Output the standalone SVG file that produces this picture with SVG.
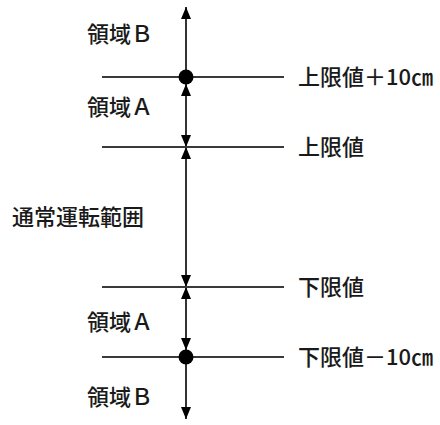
<svg xmlns="http://www.w3.org/2000/svg" width="440" height="425" viewBox="0 0 440 425">
<style>
.bg{fill:#ffffff}
.lvl{stroke:#3a3a3a;stroke-width:2;fill:none}
.ax{stroke:#000000;stroke-width:1.6;fill:none}
.t{font-family:"Noto Sans CJK JP","Noto Sans CJK SC",sans-serif;font-size:22px;font-weight:500;fill:#1a1a1a}
.dot{fill:#000000}
</style>
<defs>
<marker id="ah" viewBox="0 0 12 10" refX="12" refY="5" markerWidth="12" markerHeight="10" markerUnits="userSpaceOnUse" orient="auto-start-reverse">
<path d="M0,0 L12,5 L0,10 z" fill="#000000"/>
</marker>
</defs>
<rect class="bg" x="0" y="0" width="440" height="425"/>
<g id="connectors">
<line class="ax" x1="186" y1="77" x2="186" y2="7" marker-end="url(#ah)"/>
<line class="ax" x1="186" y1="84" x2="186" y2="147" marker-start="url(#ah)" marker-end="url(#ah)"/>
<line class="ax" x1="186" y1="147" x2="186" y2="287" marker-start="url(#ah)" marker-end="url(#ah)"/>
<line class="ax" x1="186" y1="287" x2="186" y2="350" marker-start="url(#ah)" marker-end="url(#ah)"/>
<line class="ax" x1="186" y1="357" x2="186" y2="419" marker-end="url(#ah)"/>
</g>
<g id="upper10">
<line class="lvl" x1="102" y1="77" x2="284" y2="77"/>
<circle class="dot" cx="186" cy="77" r="7.5"/>
<text class="t" x="298" y="85">上限値＋10㎝</text>
</g>
<g id="upper">
<line class="lvl" x1="102" y1="147" x2="284" y2="147"/>
<text class="t" x="298" y="155">上限値</text>
</g>
<g id="lower">
<line class="lvl" x1="102" y1="287" x2="284" y2="287"/>
<text class="t" x="298" y="295">下限値</text>
</g>
<g id="lower10">
<line class="lvl" x1="102" y1="357" x2="284" y2="357"/>
<circle class="dot" cx="186" cy="357" r="7.5"/>
<text class="t" x="298" y="365">下限値－10㎝</text>
</g>
<g id="regionB-top"><text class="t" x="87" y="42">領域Ｂ</text></g>
<g id="regionA-top"><text class="t" x="87" y="115">領域Ａ</text></g>
<g id="normal"><text class="t" x="12" y="225">通常運転範囲</text></g>
<g id="regionA-bottom"><text class="t" x="87" y="330">領域Ａ</text></g>
<g id="regionB-bottom"><text class="t" x="87" y="405">領域Ｂ</text></g>
</svg>
